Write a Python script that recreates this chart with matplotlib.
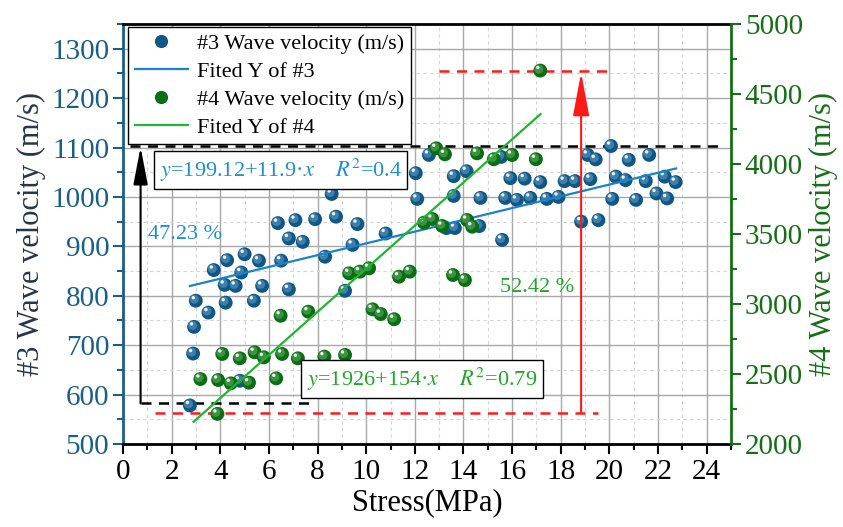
import numpy as np
import matplotlib
matplotlib.use("Agg")
import matplotlib.pyplot as plt
from matplotlib.lines import Line2D
from matplotlib.transforms import offset_copy
from matplotlib.ticker import MultipleLocator

plt.rcParams['font.family'] = ['Liberation Serif', 'DejaVu Serif']
plt.rcParams['mathtext.fontset'] = 'stix'

# sample #3 : stress (MPa) vs wave velocity (m/s)
s3_x = [2.75, 2.88, 2.92, 2.99, 3.51, 3.73, 4.18, 4.22, 4.28, 4.63, 4.80, 4.86,
        5.00, 5.38, 5.59, 5.72, 6.37, 6.50, 6.82, 6.82, 7.09, 7.39, 7.90, 8.31,
        8.58, 8.76, 9.13, 9.44, 9.64, 10.80, 12.04, 12.10, 12.58, 13.30, 13.60,
        13.60, 13.65, 14.13, 14.65, 14.70, 15.55, 15.59, 15.72, 15.93, 16.20,
        16.52, 16.75, 17.16, 17.43, 17.91, 18.16, 18.59, 18.84, 19.11, 19.22,
        19.44, 19.55, 20.07, 20.12, 20.27, 20.67, 20.80, 21.10, 21.50, 21.64,
        21.94, 22.28, 22.38, 22.73]
s3_v = [578, 683, 737, 790, 766, 852, 822, 786, 872, 820, 628, 847,
        884, 790, 871, 820, 947, 871, 916, 813, 953, 909, 955, 879,
        1006, 960, 810, 903, 945, 926, 1048, 996, 1085, 937, 1042,
        1002, 937, 1052, 941, 998, 1081, 913, 998, 1038, 994,
        1037, 998, 1030, 996, 1000, 1032, 1032, 950, 1085, 1036,
        1076, 953, 1103, 996, 1041, 1034, 1075, 994, 1032, 1085,
        1007, 1041, 997, 1030]

# sample #4
s4_x = [3.18, 3.88, 3.91, 4.08, 4.43, 4.80, 5.18, 5.41, 5.79, 6.30, 6.48, 6.54,
        7.19, 7.62, 8.28, 9.13, 9.30, 9.74, 10.12, 10.26, 10.60, 11.15, 11.35,
        11.79, 12.38, 12.72, 12.88, 13.13, 13.24, 13.57, 14.06, 14.15, 14.36,
        14.56, 15.25, 16.00, 16.98, 17.16]
s4_v = [2464, 2215, 2457, 2643, 2433, 2612, 2438, 2655, 2619, 2469, 2916, 2643,
        2612, 2945, 2624, 2636, 3219, 3231, 3255, 2962, 2928, 2891, 3195,
        3231, 3581, 3607, 4112, 3557, 4069, 3207, 3171, 3600, 3552,
        4076, 4034, 4064, 4034, 4667]

# fitted lines (intercept, slope, x range)
fit3 = (787.0, 11.9, 2.75, 22.75)
fit4 = (1712.0, 154.0, 2.9, 17.17)

# bounds used by the change annotations
v3_max, v3_min = 1103, 582
v4_max, v4_min = 4667, 2221

blue_ball = '#0f5786'
green_ball = '#0a6e12'
blue_fit = '#1a82cc'
green_fit = '#1eb530'
blue_text = '#1b8fd3'
green_text = '#22a52a'
left_col = '#1a5f8c'
right_col = '#157015'

fig = plt.figure(figsize=(8.43, 5.27), dpi=100)
ax1 = fig.add_axes([0.146, 0.1575, 0.721, 0.797])
ax2 = ax1.twinx()


def balls(ax, x, y, base, mid):
    fig_ = ax.figure
    ax.scatter(x, y, s=100, color=base, edgecolors='none', zorder=3)
    ax.scatter(x, y, s=42, color=mid, edgecolors='none', zorder=3,
               transform=offset_copy(ax.transData, fig_, x=-1.5, y=1.5, units='dots'))
    ax.scatter(x, y, s=6, color='white', edgecolors='none', zorder=3, alpha=0.9,
               transform=offset_copy(ax.transData, fig_, x=-2.5, y=3, units='dots'))


balls(ax1, s3_x, s3_v, blue_ball, '#3f7fa8')
balls(ax2, s4_x, s4_v, green_ball, '#3c9142')

xf = np.array([fit3[2], fit3[3]])
ax1.plot(xf, fit3[0] + fit3[1] * xf, color=blue_fit, lw=1.6, zorder=4)
xf = np.array([fit4[2], fit4[3]])
ax2.plot(xf, fit4[0] + fit4[1] * xf, color=green_fit, lw=1.6, zorder=4)

# change from the lowest to the highest velocity
ax1.plot([0.3, 24.6], [v3_max, v3_max], color='black', lw=1.8, ls=(0, (4, 3)), zorder=2)
ax1.plot([0.72, 7.7], [v3_min, v3_min], color='black', lw=1.8, ls=(0, (4, 3)), zorder=2)
ax1.annotate('', xy=(0.72, v3_max - 2), xytext=(0.72, v3_min),
             arrowprops=dict(arrowstyle='-|>,head_length=1.15,head_width=0.22',
                             mutation_scale=20, color='black', lw=1.5, shrinkA=0, shrinkB=0))
ax2.plot([13.0, 19.96], [v4_max, v4_max], color='#ff1a1a', lw=1.8, ls=(0, (4, 3)), zorder=2)
ax2.plot([1.3, 19.55], [v4_min, v4_min], color='#ff1a1a', lw=1.8, ls=(0, (4, 3)), zorder=2)
ax2.annotate('', xy=(18.84, v4_max - 15), xytext=(18.84, v4_min),
             arrowprops=dict(arrowstyle='-|>,head_length=1.33,head_width=0.25',
                             mutation_scale=20, color='#ff1a1a', lw=1.5, shrinkA=0, shrinkB=0))

ax1.text(2.54, 923, '47.23 %', color=blue_text, fontsize=16, ha='center', va='center')
ax1.text(17.05, 816, '52.42 %', color=green_text, fontsize=16, ha='center', va='center')

box = dict(boxstyle='square,pad=0.25', facecolor='white', edgecolor='black', lw=1.0)
ax1.text(1.5, 1054, '$y$=199.12+11.9·$x$    $R^2$=0.4', color=blue_text, fontsize=16,
         ha='left', va='center', bbox=box, zorder=5)
ax2.text(7.55, 2462, '$y$=1926+154·$x$    $R^2$=0.79', color=green_text, fontsize=16,
         ha='left', va='center', bbox=box, zorder=5)

# axes, ticks and grid
ax1.set_xlim(0, 25)
ax1.set_ylim(500, 1350)
ax2.set_ylim(2000, 5000)
ax1.xaxis.set_minor_locator(MultipleLocator(1))
ax1.set_xticks(np.arange(0, 25, 2))
ax1.yaxis.set_minor_locator(MultipleLocator(50))
ax1.set_yticks(np.arange(500, 1301, 100))
ax2.yaxis.set_major_locator(MultipleLocator(500))
ax2.yaxis.set_minor_locator(MultipleLocator(250))

ax1.grid(which='major', color='#a8a8a8', lw=1.0, ls='-', zorder=0)
ax1.grid(which='minor', color='#d4d4d4', lw=0.8, ls=(0, (3, 3)), zorder=0)
ax1.set_axisbelow(True)

ax1.tick_params(axis='x', which='both', direction='out', colors='black', labelsize=21,
                width=1.5, pad=4)
ax1.tick_params(axis='x', which='major', length=7)
ax1.tick_params(axis='x', which='minor', length=4)
ax1.tick_params(axis='y', which='both', direction='out', color=left_col, labelcolor=left_col,
                labelsize=21, width=1.5, pad=3)
ax1.tick_params(axis='y', which='major', length=7)
ax1.tick_params(axis='y', which='minor', length=4)
ax2.tick_params(axis='y', which='both', direction='out', color=right_col, labelcolor=right_col,
                labelsize=21, width=1.5, pad=3)
ax2.tick_params(axis='y', which='major', length=7)
ax2.tick_params(axis='y', which='minor', length=4)

for sp in ('top', 'bottom'):
    ax1.spines[sp].set_color('black')
    ax1.spines[sp].set_linewidth(2)
ax1.spines['left'].set_color(left_col)
ax1.spines['left'].set_linewidth(2)
ax1.spines['right'].set_visible(False)
for sp in ('top', 'bottom', 'left'):
    ax2.spines[sp].set_visible(False)
ax2.spines['right'].set_color(right_col)
ax2.spines['right'].set_linewidth(2)

ax1.set_xlabel('Stress(MPa)', fontsize=22, labelpad=2)
ax1.set_ylabel('#3 Wave velocity (m/s)', fontsize=22, color='#23364a', labelpad=4)
ax2.set_ylabel('#4 Wave velocity (m/s)', fontsize=22, color=right_col, labelpad=4)

handles = [
    Line2D([], [], ls='none', marker='o', ms=9.5, color=blue_ball, mec='none'),
    Line2D([], [], color=blue_fit, lw=1.6),
    Line2D([], [], ls='none', marker='o', ms=9.5, color=green_ball, mec='none'),
    Line2D([], [], color=green_fit, lw=1.6),
]
labels = ['#3 Wave velocity (m/s)', 'Fited Y of #3', '#4 Wave velocity (m/s)', 'Fited Y of #4']
leg = ax2.legend(handles, labels, loc='upper left', bbox_to_anchor=(0.008, 0.993),
                 borderaxespad=0, fontsize=16, frameon=True, fancybox=False,
                 edgecolor='black', framealpha=1, handlelength=2.4, handletextpad=0.4,
                 labelspacing=0.33, borderpad=0.3)
leg.get_frame().set_linewidth(1.0)
leg.set_zorder(10)

fig.savefig('out.png', dpi=100)
